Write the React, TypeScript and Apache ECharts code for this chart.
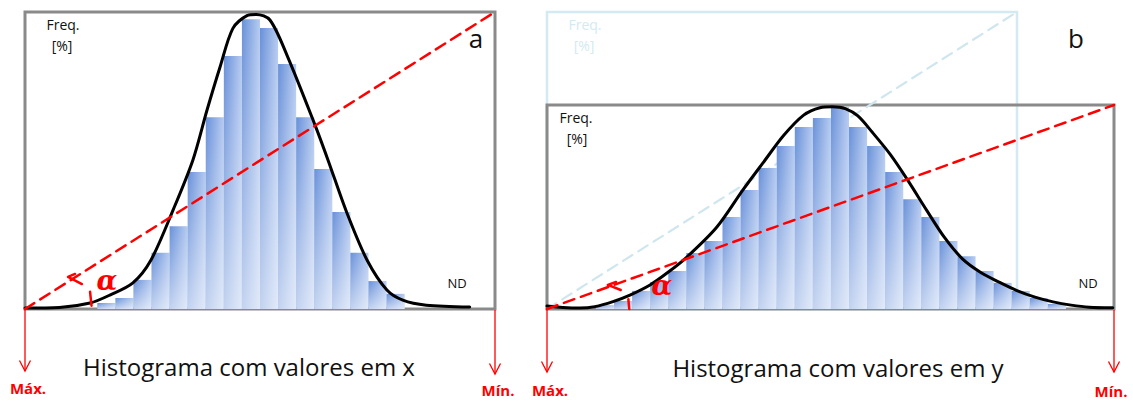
import React, { useEffect, useRef } from "react";
import * as echarts from "echarts";

// ---- Panel a (values in x) ----
const leftXMax = 26;
const leftYMax = 100;
const leftBinStart = 4;
const leftBars = [2.0, 3.7, 9.8, 18.9, 27.9, 46.1, 64.6, 85.2, 97.6, 94.6, 82.5, 64.6, 47.1, 32.7, 18.9, 9.4, 5.1];
const leftCurve: [number, number][] = [
  [0, 0.3], [1.9, 0.5], [3.6, 2.0], [4.7, 4.7], [5.97, 8.8], [6.97, 16.5], [8.19, 33.3],
  [9.29, 50.2], [10.07, 67.0], [10.79, 81.5], [11.5, 94.5], [12.28, 98.8], [12.8, 99.2],
  [13.55, 97.3], [14.49, 85.5], [16.04, 62.0], [16.76, 50.2], [17.81, 32.3], [18.92, 16.5],
  [20.02, 6.4], [20.9, 3.0], [22.2, 1.3], [24.6, 0.7],
];
const leftHook: [number, number][] = [[2.77, 11.8], [2.38, 10.8], [3.15, 8.4]];
const leftTick: [number, number][] = [[3.6, 5.8], [3.68, 1.1]];

// ---- Panel b (values in y) ----
const ghostXMax = 26;
const ghostYMax = 100;
const rightXMax = 31.37;
const rightYMax = 68.7;
const rightBinStart = 2.71;
const rightBars = [1.3, 2.7, 6.1, 9.1, 12.8, 18.9, 22.9, 31.0, 40.1, 47.5, 54.9, 61.3, 64.3, 68.0, 61.3, 54.9, 46.1, 37.0, 31.0, 22.9, 17.8, 12.8, 8.8, 6.1, 3.7, 1.7];
const rightCurve: [number, number][] = [
  [0, 1.0], [0.88, 0.5], [1.83, 0.3], [2.65, 0.8], [3.65, 2.5], [4.59, 4.7], [5.7, 8.1],
  [6.64, 12.1], [7.74, 17.5], [9.4, 27.6], [10.84, 40.1], [11.95, 49.2], [13.1, 58.5],
  [14.2, 65.3], [15.1, 67.8], [15.8, 68.1], [16.5, 67.5], [17.2, 65.0], [18.0, 59.5],
  [19.0, 52.0], [20.0, 43.0], [21.0, 33.3], [22.0, 24.0], [23.0, 16.8], [24.0, 12.3],
  [25.0, 9.1], [26.0, 6.2], [27.0, 4.0], [28.0, 2.4], [29.0, 1.3], [30.0, 0.6], [31.3, 0.4],
];
const rightHook: [number, number][] = [[3.82, 9.1], [3.37, 8.1], [4.08, 6.4]];
const rightTick: [number, number][] = [[4.5, 3.3], [4.55, 0]];

const FONT = '"Open Sans", "Noto Sans", sans-serif';

function barRender(params: any, api: any) {
  const x0 = api.value(0);
  const h = api.value(1);
  const p0 = api.coord([x0, h]);
  const p1 = api.coord([x0 + 1, 0]);
  const shape = { x: p0[0], y: p0[1], width: p1[0] - p0[0], height: p1[1] - p0[1] };
  return {
    type: "group",
    children: [
      {
        type: "rect",
        shape,
        style: {
          fill: new echarts.graphic.LinearGradient(0, 0, 1, 0, [
            { offset: 0, color: "#6890d9" },
            { offset: 1, color: "#b6cbf0" },
          ]),
        },
      },
      {
        type: "rect",
        shape,
        style: {
          fill: new echarts.graphic.LinearGradient(0, 0, 0, 1, [
            { offset: 0, color: "rgba(255,255,255,0)" },
            { offset: 1, color: "rgba(255,255,255,0.6)" },
          ]),
        },
      },
    ],
  };
}

function seg(data: [number, number][], xi: number, color: string, width: number, dashed: boolean, z: number) {
  return {
    type: "line",
    xAxisIndex: xi,
    yAxisIndex: xi,
    data,
    symbol: "none",
    clip: false,
    silent: true,
    z,
    lineStyle: { color, width, type: dashed ? [11, 7] : "solid", join: "round", cap: "round" },
  };
}

function txt(text: string, x: number, y: number, size: number, fill: string, extra: any = {}) {
  return {
    type: "text",
    x,
    y,
    z: 50,
    style: {
      text,
      fill,
      fontSize: size,
      fontFamily: FONT,
      align: "center",
      verticalAlign: "middle",
      ...extra,
    },
  };
}

function arrow(x: number, tip: number) {
  return [
    { type: "line", z: 50, shape: { x1: x, y1: 310, x2: x, y2: tip }, style: { stroke: "#ff0000", lineWidth: 1.3 } },
    {
      type: "polyline",
      z: 50,
      shape: { points: [[x - 5.5, tip - 10.5], [x, tip], [x + 5.5, tip - 10.5]] },
      style: { stroke: "#ff0000", lineWidth: 1.3, fill: null },
    },
  ];
}

export default function App() {
  const ref = useRef<HTMLDivElement>(null);
  useEffect(() => {
    if (!ref.current) return;
    const chart = echarts.init(ref.current, undefined, { renderer: "svg" });
    const hiddenAxis = (gridIndex: number, max: number) => ({
      type: "value",
      gridIndex,
      min: 0,
      max,
      show: false,
    });
    const redLabel = { fontWeight: "bold" };
    const alphaStyle = { fontFamily: '"DejaVu Serif", serif', fontStyle: "italic", fontWeight: "bold" };
    chart.setOption({
      animation: false,
      grid: [
        { left: 25, top: 12, width: 470, height: 297, show: true, borderColor: "#8a8a8a", borderWidth: 3, z: 1 },
        { left: 547, top: 12, width: 470, height: 297, show: true, borderColor: "#d3eaf2", borderWidth: 2.5, z: 0 },
        { left: 547, top: 105, width: 567, height: 204, show: true, borderColor: "#8a8a8a", borderWidth: 3, z: 1 },
      ],
      xAxis: [hiddenAxis(0, leftXMax), hiddenAxis(1, ghostXMax), hiddenAxis(2, rightXMax)],
      yAxis: [hiddenAxis(0, leftYMax), hiddenAxis(1, ghostYMax), hiddenAxis(2, rightYMax)],
      series: [
        seg([[0, 0], [ghostXMax, ghostYMax]], 1, "#cfe6ef", 2.2, true, 2),
        {
          type: "custom",
          xAxisIndex: 0,
          yAxisIndex: 0,
          renderItem: barRender,
          encode: { x: 0, y: 1 },
          data: leftBars.map((h, i) => [leftBinStart + i, h]),
          z: 3,
          silent: true,
        },
        {
          type: "custom",
          xAxisIndex: 2,
          yAxisIndex: 2,
          renderItem: barRender,
          encode: { x: 0, y: 1 },
          data: rightBars.map((h, i) => [rightBinStart + i, h]),
          z: 3,
          silent: true,
        },
        { ...seg(leftCurve, 0, "#000000", 3, false, 5), smooth: 0.3 },
        { ...seg(rightCurve, 2, "#000000", 3, false, 5), smooth: 0.3 },
        seg([[0, 0], [leftXMax, leftYMax]], 0, "#ff0000", 2.5, true, 6),
        seg([[0, 0], [rightXMax, rightYMax]], 2, "#ff0000", 2.5, true, 6),
        seg(leftHook, 0, "#ff0000", 2.5, false, 6),
        seg(leftTick, 0, "#ff0000", 2.5, false, 6),
        seg(rightHook, 2, "#ff0000", 2.5, false, 6),
        seg(rightTick, 2, "#ff0000", 2.5, false, 6),
      ],
      graphic: [
        txt("Freq.", 63, 24, 14, "#111"),
        txt("[%]", 62, 45, 14, "#111"),
        txt("a", 476, 38, 26, "#111"),
        txt("ND", 457, 283, 13, "#111"),
        txt("Freq.", 585, 24, 14, "#d3eaf2"),
        txt("[%]", 584, 45, 14, "#d3eaf2"),
        txt("Freq.", 576, 117, 14, "#111"),
        txt("[%]", 577, 138, 14, "#111"),
        txt("b", 1076, 38, 26, "#111"),
        txt("ND", 1088, 283, 13, "#111"),
        txt("α", 107, 280, 27, "#ff0000", alphaStyle),
        txt("α", 662, 285, 27, "#ff0000", alphaStyle),
        txt("Histograma com valores em x", 249, 366, 24, "#111"),
        txt("Histograma com valores em y", 838, 367, 24, "#111"),
        ...arrow(25, 371),
        ...arrow(495, 374),
        ...arrow(547, 372),
        ...arrow(1114, 372),
        txt("Máx.", 28, 388, 15, "#ff0000", redLabel),
        txt("Mín.", 498, 390, 15, "#ff0000", redLabel),
        txt("Máx.", 550, 390, 15, "#ff0000", redLabel),
        txt("Mín.", 1111, 391, 15, "#ff0000", redLabel),
      ],
    });
    return () => chart.dispose();
  }, []);
  return (
    <div
      ref={ref}
      style={{ position: "fixed", left: 0, top: 0, width: 1133, height: 403, background: "#fff" }}
    />
  );
}
